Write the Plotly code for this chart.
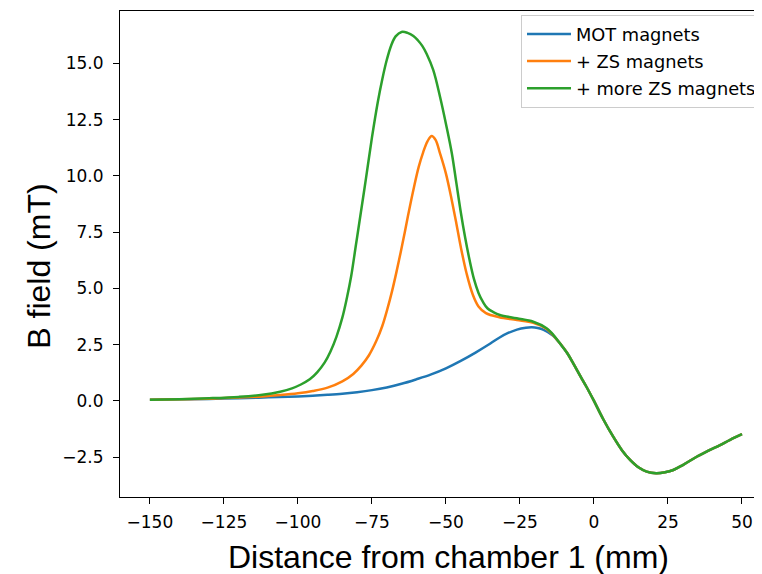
import plotly.graph_objects as go

# ---- data ----
mot_x = [-150, -140, -130, -120, -110, -100, -95, -90, -85, -80, -75, -70, -65, -60, -55,
         -50, -45, -40, -35, -32, -29, -26, -23, -21, -19, -17, -14, -11.5, -9, -7, -4.5,
         -2.5, 0, 3, 6.5, 9.5, 12.2, 15, 17.8, 21, 24, 26.8, 30, 34.7, 38.5, 42.6, 46, 50]
mot_y = [0.05, 0.07, 0.09, 0.12, 0.16, 0.2, 0.23, 0.27, 0.32, 0.39, 0.48, 0.6, 0.76, 0.96,
         1.18, 1.45, 1.78, 2.15, 2.55, 2.81, 3.02, 3.17, 3.25, 3.27, 3.24, 3.16, 2.92, 2.56,
         2.12, 1.67, 1.08, 0.62, 0.0, -0.78, -1.59, -2.2, -2.62, -2.95, -3.14, -3.21, -3.17,
         -3.07, -2.85, -2.48, -2.22, -1.96, -1.73, -1.48]

zs_x = [-150, -140, -130, -120, -112, -106, -100, -95, -90, -85, -81.3, -78.5, -76,
        -73.5, -71.5, -69.8, -68.2, -66.8, -65.3, -63.9, -62.4, -60.8, -59.2, -57.7, -56.2,
        -54.8, -53.5, -52, -50, -48, -46.5, -45, -43, -41, -39, -36.5, -32, -26, -20.5,
        -16, -14, -11.5, -9, -7, -4.5, -2.5, 0, 3, 6.5, 9.5, 12.2, 15, 17.8, 21, 24, 26.8,
        30, 34.7, 38.5, 42.6, 46, 50]
zs_y = [0.05, 0.07, 0.1, 0.15, 0.2, 0.26, 0.34, 0.44, 0.59, 0.87, 1.2, 1.58, 2.03,
        2.67, 3.33, 4.08, 4.88, 5.68, 6.6, 7.5, 8.5, 9.5, 10.4, 11.05, 11.55,
        11.78, 11.6, 11.0, 10.1, 8.9, 7.9, 6.85, 5.65, 4.75, 4.2, 3.9, 3.72, 3.6, 3.47,
        3.2, 2.95, 2.56, 2.12, 1.67, 1.08, 0.62, 0.0, -0.78, -1.59, -2.2, -2.62, -2.95,
        -3.14, -3.21, -3.17, -3.07, -2.85, -2.48, -2.22, -1.96, -1.73, -1.48]

more_x = [-150, -140, -130, -120, -112, -106, -102, -99, -96, -93.5, -91, -89, -87, -85,
          -83.5, -82, -80.5, -79, -77, -75, -73, -71.5, -70, -68.5, -67, -65, -63, -61,
          -59.5, -58, -56.5, -54.3, -52, -49.8, -48, -46.5, -45, -43.5, -42, -40.5, -39,
          -37.5, -36, -34, -31.8, -26.1, -20.5, -16, -14, -11.5, -9, -7, -4.5, -2.5, 0,
          3, 6.5, 9.5, 12.2, 15, 17.8, 21, 24, 26.8, 30, 34.7, 38.5, 42.6, 46, 50]
more_y = [0.05, 0.08, 0.12, 0.18, 0.27, 0.41, 0.56, 0.73, 0.96, 1.27, 1.7, 2.2, 2.85, 3.7,
          4.55, 5.55, 6.85, 8.15, 9.9, 11.7, 13.3, 14.3, 15.15, 15.8, 16.2, 16.4, 16.36,
          16.22, 16.03, 15.78, 15.42, 14.71, 13.52, 12.19, 11.0, 9.7, 8.4, 7.25, 6.25,
          5.4, 4.8, 4.4, 4.12, 3.95, 3.82, 3.67, 3.52, 3.23, 2.98, 2.56, 2.12, 1.67, 1.08,
          0.62, 0.0, -0.78, -1.59, -2.2, -2.62, -2.95, -3.14, -3.21, -3.17, -3.07, -2.85,
          -2.48, -2.22, -1.96, -1.73, -1.48]

names = ["MOT magnets", "+ ZS magnets", "+ more ZS magnets"]
colors = ["#1f77b4", "#ff7f0e", "#2ca02c"]
x_ticks = [-150, -125, -100, -75, -50, -25, 0, 25, 50]
y_ticks = [-2.5, 0.0, 2.5, 5.0, 7.5, 10.0, 12.5, 15.0]

fig = go.Figure()
for i, (xs, ys) in enumerate([(mot_x, mot_y), (zs_x, zs_y), (more_x, more_y)]):
    fig.add_trace(go.Scatter(
        x=xs, y=ys, mode="lines", name=names[i],
        line=dict(color=colors[i], width=2.5, shape="spline", smoothing=1.0),
        legendgroup=str(i),
    ))

tick_font = dict(family="DejaVu Sans", size=17, color="black")
# page has an 8px body margin, so the figure is 754x566 and offsets are shifted by 8px
fig.update_layout(
    width=754, height=566,
    margin=dict(l=112, r=0, t=3, b=77, pad=0),
    paper_bgcolor="white", plot_bgcolor="white",
    showlegend=True,
    legend=dict(
        x=1, xanchor="right", y=0.992, yanchor="top",
        bgcolor="rgba(255,255,255,0.8)", bordercolor="#cccccc", borderwidth=1,
        font=dict(family="DejaVu Sans", size=17.8, color="black"),
        tracegroupgap=1, itemwidth=44,
    ),
    xaxis=dict(
        range=[-160.1, 56.76], tickmode="array", tickvals=x_ticks,
        ticks="outside", ticklen=6, tickcolor="black", tickwidth=1,
        ticklabelstandoff=4,
        showline=True, linecolor="black", linewidth=1, mirror=True,
        showgrid=False, zeroline=False, tickfont=tick_font,
    ),
    yaxis=dict(
        range=[-4.27, 17.33], tickmode="array", tickvals=y_ticks,
        ticktext=[f"{v:.1f}".replace("-", "\u2212") for v in y_ticks],
        ticks="outside", ticklen=6, tickcolor="black", tickwidth=1,
        ticklabelstandoff=6,
        showline=True, linecolor="black", linewidth=1, mirror=False,
        showgrid=False, zeroline=False, tickfont=tick_font,
    ),
    annotations=[
        dict(text="Distance from chamber 1 (mm)", xref="paper", yref="paper",
             x=0.5115, y=-0.1235, xanchor="center", yanchor="middle",
             showarrow=False, font=dict(family="Liberation Sans", size=32, color="black")),
        dict(text="B field (mT)", xref="paper", yref="paper",
             x=-0.126, y=0.474, xanchor="center", yanchor="middle",
             textangle=-90, showarrow=False,
             font=dict(family="Liberation Sans", size=32, color="black")),
    ],
)

fig.write_html("out.html")
